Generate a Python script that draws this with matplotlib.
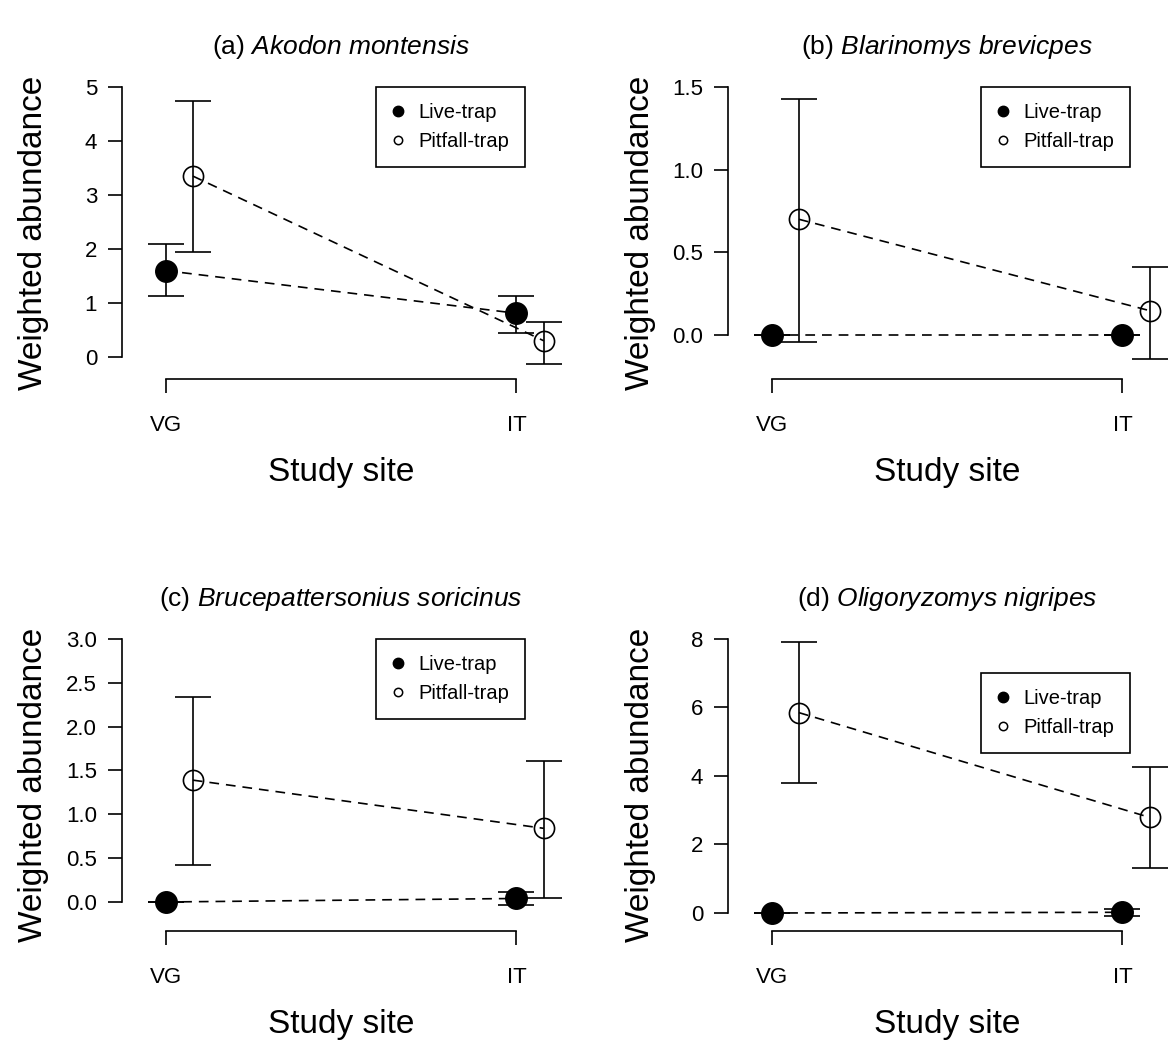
import matplotlib
matplotlib.use("Agg")
import matplotlib.pyplot as plt
from matplotlib.lines import Line2D

plt.rcParams['font.family'] = ['Liberation Sans', 'DejaVu Sans']
plt.rcParams['mathtext.fontset'] = 'custom'
plt.rcParams['mathtext.rm'] = 'Liberation Sans'
plt.rcParams['mathtext.it'] = 'Liberation Sans:italic'
plt.rcParams['lines.scale_dashes'] = False

# ---- data ----
sites = ["VG", "IT"]
site_x = [1, 2]
pitfall_shift = 0.078

letters = ["a", "b", "c", "d"]
species = ["Akodon montensis", "Blarinomys brevicpes",
           "Brucepattersonius soricinus", "Oligoryzomys nigripes"]

# (a) Akodon montensis
live_a = [1.60, 0.81]
live_a_lo = [1.13, 0.44]
live_a_hi = [2.09, 1.13]
pit_a = [3.35, 0.30]
pit_a_lo = [1.94, -0.13]
pit_a_hi = [4.74, 0.65]

# (b) Blarinomys brevicpes
live_b = [0.0, 0.0]
live_b_lo = [0.0, 0.0]
live_b_hi = [0.0, 0.0]
pit_b = [0.70, 0.147]
pit_b_lo = [-0.04, -0.145]
pit_b_hi = [1.43, 0.41]

# (c) Brucepattersonius soricinus
live_c = [0.0, 0.04]
live_c_lo = [0.0, -0.04]
live_c_hi = [0.0, 0.11]
pit_c = [1.39, 0.84]
pit_c_lo = [0.42, 0.04]
pit_c_hi = [2.34, 1.61]

# (d) Oligoryzomys nigripes
live_d = [0.0, 0.02]
live_d_lo = [0.0, -0.08]
live_d_hi = [0.0, 0.12]
pit_d = [5.85, 2.79]
pit_d_lo = [3.80, 1.30]
pit_d_hi = [7.90, 4.25]

yticks_a = [0, 1, 2, 3, 4, 5]
yticks_b = [0.0, 0.5, 1.0, 1.5]
yticks_c = [0.0, 0.5, 1.0, 1.5, 2.0, 2.5, 3.0]
yticks_d = [0, 2, 4, 6, 8]

panels = [
    (live_a, live_a_lo, live_a_hi, pit_a, pit_a_lo, pit_a_hi, yticks_a, "{:.0f}"),
    (live_b, live_b_lo, live_b_hi, pit_b, pit_b_lo, pit_b_hi, yticks_b, "{:.1f}"),
    (live_c, live_c_lo, live_c_hi, pit_c, pit_c_lo, pit_c_hi, yticks_c, "{:.1f}"),
    (live_d, live_d_lo, live_d_hi, pit_d, pit_d_lo, pit_d_hi, yticks_d, "{:.0f}"),
]

# ---- layout (pixels) ----
FIG_W, FIG_H = 1169, 1046
col_left = [122, 728]
row_top = [87, 639]
row_bottom = [379, 931]
xlim = (0.876, 2.124)
ax_width = 438
ylim_bottom = [-0.407, -0.266, -0.331, -0.526]
legend_right = [525, 1130, 525, 1130]
legend_top = [87, 87, 639, 673]
xlabel_gap = 93   # px from x-axis line to centre of "Study site"

LW = 1.2
fig = plt.figure(figsize=(FIG_W / 100, FIG_H / 100), dpi=100)

for i, (live, live_lo, live_hi, pit, pit_lo, pit_hi, yt, fmt) in enumerate(panels):
    r, c = divmod(i, 2)
    ax_h = row_bottom[r] - row_top[r]
    left = col_left[c] / FIG_W
    bottom = 1 - row_bottom[r] / FIG_H
    ax = fig.add_axes([left, bottom, ax_width / FIG_W, ax_h / FIG_H])

    pit_x = [x + pitfall_shift for x in site_x]

    # dashed connecting lines
    ax.plot(site_x, live, color='black', lw=LW, dashes=(7, 5), clip_on=False, zorder=2)
    ax.plot(pit_x, pit, color='black', lw=LW, dashes=(7, 5), clip_on=False, zorder=2)

    # error bars
    ax.errorbar(site_x, live,
                yerr=[[m - lo for m, lo in zip(live, live_lo)],
                      [hi - m for m, hi in zip(live, live_hi)]],
                fmt='none', ecolor='black', elinewidth=LW, capsize=13,
                capthick=LW, clip_on=False, zorder=3)
    ax.errorbar(pit_x, pit,
                yerr=[[m - lo for m, lo in zip(pit, pit_lo)],
                      [hi - m for m, hi in zip(pit, pit_hi)]],
                fmt='none', ecolor='black', elinewidth=LW, capsize=13,
                capthick=LW, clip_on=False, zorder=3)

    # points
    ax.plot(site_x, live, 'o', ms=15.5, color='black', clip_on=False, zorder=4)
    ax.plot(pit_x, pit, 'o', ms=14.5, mfc='none', mec='black', mew=LW,
            clip_on=False, zorder=4)

    ax.set_xlim(*xlim)
    ax.set_ylim(ylim_bottom[i], yt[-1])

    for side in ['top', 'right']:
        ax.spines[side].set_visible(False)
    ax.spines['left'].set_bounds(yt[0], yt[-1])
    ax.spines['bottom'].set_bounds(site_x[0], site_x[-1])
    ax.spines['left'].set_linewidth(LW)
    ax.spines['bottom'].set_linewidth(LW)

    ax.set_xticks(site_x)
    ax.set_xticklabels(sites)
    ax.set_yticks(yt)
    ax.set_yticklabels([fmt.format(v) for v in yt])
    ax.tick_params(axis='both', direction='out', length=10, width=LW,
                   labelsize=16)
    ax.tick_params(axis='x', pad=16)
    ax.tick_params(axis='y', pad=8)

    ax.set_xlabel("Study site", fontsize=24)
    ax.xaxis.set_label_coords(0.5, -xlabel_gap / ax_h)
    ax.xaxis.label.set_va('center')
    ax.set_ylabel("Weighted abundance", fontsize=24)
    ax.yaxis.set_label_coords(-88 / ax_width, 0.5)
    ax.yaxis.label.set_va('center')

    name = species[i].replace(" ", r"\ ")
    ax.set_title(f"({letters[i]}) $\\mathit{{{name}}}$", fontsize=19, pad=24)

    handles = [
        Line2D([], [], marker='o', ls='none', color='black', ms=7.5),
        Line2D([], [], marker='o', ls='none', mfc='none', mec='black', mew=1.1, ms=6),
    ]
    leg = ax.legend(handles, ["Live-trap", "Pitfall-trap"], loc='upper right',
                    bbox_to_anchor=(legend_right[i] / FIG_W, 1 - legend_top[i] / FIG_H),
                    bbox_transform=fig.transFigure, fontsize=14.5,
                    frameon=True, fancybox=False, shadow=False, framealpha=1,
                    borderpad=0.8, labelspacing=0.5, handlelength=0.6,
                    handletextpad=0.7, borderaxespad=0)
    leg.get_frame().set_edgecolor('black')
    leg.get_frame().set_linewidth(LW)

fig.savefig("out.png", dpi=100)
